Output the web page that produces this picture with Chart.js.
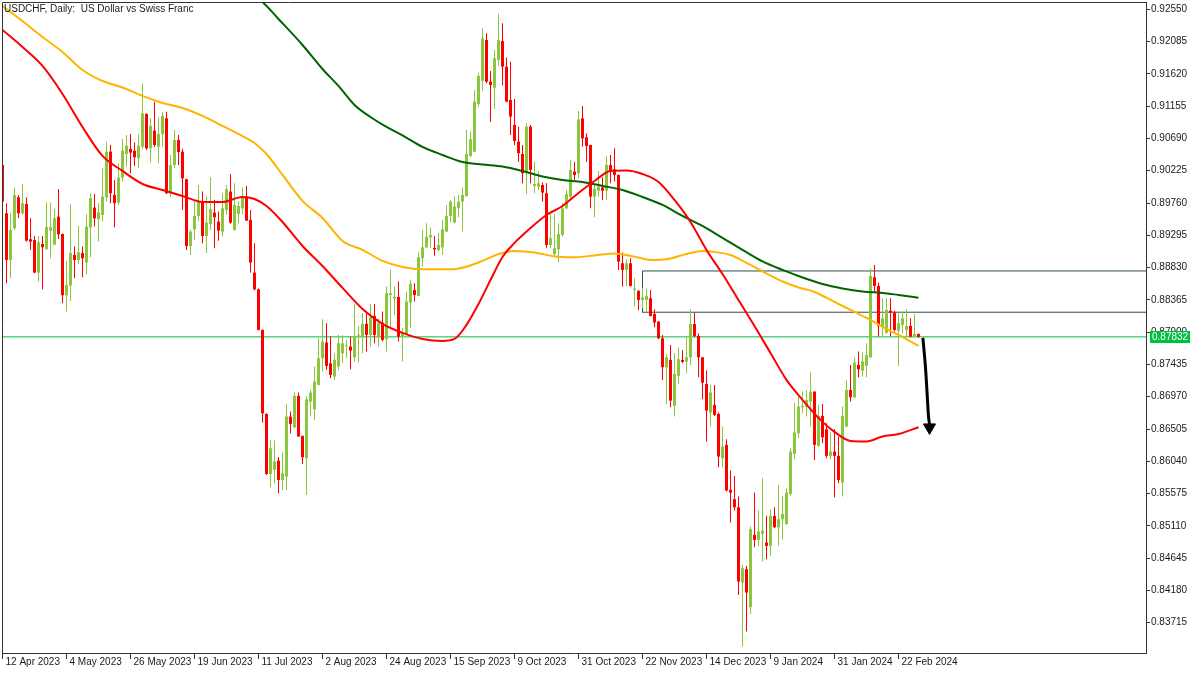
<!DOCTYPE html>
<html>
<head>
<meta charset="utf-8">
<title>USDCHF, Daily</title>
<script src="https://cdn.jsdelivr.net/npm/chart.js@4.4.1/dist/chart.umd.min.js"></script>
<style>
  html, body { margin: 0; padding: 0; background: #fff; }
  #wrap { width: 1200px; height: 675px; }
</style>
</head>
<body>
<div id="wrap"><canvas id="chart" width="1200" height="675"></canvas></div>
<script>
// daily candles, 12 Apr 2023 .. 29 Feb 2024 (index 0..229)
const opens = [
  0.90308,0.89612,0.88940,0.89396,0.89842,0.89612,0.89746,0.89238,0.89228,0.88758,
  0.89170,0.89094,0.89362,0.89160,0.89564,0.89314,0.88431,0.88570,0.89012,0.88940,
  0.89040,0.88902,0.89406,0.89694,0.89526,0.89588,0.89842,0.90500,0.89876,0.89766,
  0.90126,0.90466,0.90538,0.90514,0.90404,0.90572,0.91042,0.90548,0.90802,0.90572,
  0.90750,0.90980,0.89900,0.90308,0.90668,0.90499,0.90102,0.89140,0.89380,0.89574,
  0.89780,0.89286,0.89458,0.89622,0.89492,0.89348,0.89660,0.89924,0.89372,0.89602,
  0.89684,0.89852,0.89516,0.88758,0.88518,0.87932,0.86722,0.85858,0.85916,0.86050,
  0.85772,0.85820,0.86684,0.86530,0.86982,0.86406,0.86084,0.86900,0.86790,0.87140,
  0.87524,0.87750,0.87452,0.87260,0.87404,0.87596,0.87696,0.87692,0.87538,0.87850,
  0.87826,0.88020,0.87860,0.88134,0.87826,0.88038,0.87798,0.88436,0.88384,0.88408,
  0.87836,0.87874,0.88326,0.88508,0.88422,0.88964,0.89122,0.89266,0.89113,0.89084,
  0.89122,0.89348,0.89574,0.89478,0.89684,0.89780,0.89862,0.90438,0.90500,0.91186,
  0.91522,0.92108,0.91508,0.91422,0.91820,0.92094,0.91724,0.91244,0.90884,0.90644,
  0.90466,0.90212,0.90860,0.90006,0.89996,0.90020,0.89900,0.89156,0.89022,0.89094,
  0.89300,0.89684,0.89852,0.90212,0.90188,0.90980,0.90706,0.90596,0.89852,0.89938,
  0.89982,0.89938,0.90308,0.90246,0.90164,0.88892,0.88796,0.88892,0.88508,0.88494,
  0.88364,0.88364,0.88388,0.88162,0.88052,0.87812,0.87394,0.87500,0.86838,0.87270,
  0.87500,0.87476,0.87538,0.88018,0.87846,0.87538,0.87154,0.86742,0.86852,0.86722,
  0.86084,0.86276,0.85630,0.85494,0.85378,0.84294,0.84486,0.83940,0.84980,0.84908,
  0.84994,0.84870,0.84822,0.85254,0.85090,0.85206,0.85138,0.85570,0.86146,0.86444,
  0.86818,0.86828,0.86900,0.87044,0.86262,0.86694,0.86502,0.86118,0.86180,0.86118,
  0.85734,0.86540,0.87068,0.86962,0.87428,0.87346,0.87414,0.87538,0.88690,0.88566,
  0.87980,0.87894,0.88210,0.88182,0.87922,0.88004,0.87932,0.87990,0.87836,0.87874
];
const highs = [
  0.90332,0.89756,0.89612,0.89982,0.89876,0.90034,0.89842,0.89540,0.89286,0.89286,
  0.89286,0.89770,0.89766,0.89670,0.89962,0.89320,0.88926,0.89746,0.89132,0.89434,
  0.89132,0.89598,0.89900,0.89890,0.89756,0.90260,0.90644,0.90596,0.90092,0.90332,
  0.90682,0.90740,0.90754,0.90630,0.90754,0.91484,0.91052,0.90980,0.91220,0.90990,
  0.91066,0.91076,0.90450,0.90812,0.90740,0.90540,0.90110,0.89372,0.89804,0.90020,
  0.89924,0.89852,0.90130,0.89804,0.89636,0.89900,0.90020,0.90178,0.90044,0.89780,
  0.89986,0.90006,0.89660,0.89180,0.88530,0.87940,0.86732,0.86348,0.86338,0.86098,
  0.86166,0.86866,0.86756,0.87030,0.87030,0.86410,0.86982,0.87068,0.87404,0.87812,
  0.88086,0.88028,0.87836,0.87596,0.87860,0.87860,0.87788,0.87836,0.88307,0.87990,
  0.88172,0.88172,0.88307,0.88307,0.88100,0.88196,0.88556,0.88800,0.88556,0.88628,
  0.87956,0.88484,0.88652,0.88604,0.89046,0.89372,0.89468,0.89410,0.89286,0.89330,
  0.89516,0.89732,0.89804,0.89852,0.89876,0.89986,0.90812,0.90788,0.91388,0.91637,
  0.92276,0.92204,0.91660,0.91964,0.92482,0.92348,0.91854,0.91796,0.91258,0.90860,
  0.90596,0.90908,0.90884,0.90356,0.90212,0.90054,0.90044,0.89602,0.89602,0.89468,
  0.89756,0.89948,0.90380,0.90356,0.91086,0.91158,0.90764,0.90600,0.90020,0.90222,
  0.90130,0.90438,0.90452,0.90548,0.90170,0.89046,0.88949,0.88964,0.88676,0.88508,
  0.88532,0.88518,0.88508,0.88230,0.88060,0.87860,0.87586,0.87716,0.87596,0.87682,
  0.87644,0.87846,0.88230,0.88182,0.87884,0.87540,0.87346,0.87140,0.87140,0.86742,
  0.86540,0.86358,0.85906,0.85830,0.85532,0.84548,0.84534,0.85100,0.85590,0.85330,
  0.85796,0.85254,0.85350,0.85378,0.85700,0.85542,0.85652,0.86228,0.86876,0.86972,
  0.87044,0.87068,0.87318,0.87050,0.86852,0.86866,0.86588,0.86454,0.86502,0.86396,
  0.86828,0.87212,0.87428,0.87538,0.87620,0.87606,0.87740,0.88820,0.88868,0.88614,
  0.88388,0.88388,0.88388,0.88210,0.88182,0.88196,0.88230,0.88100,0.88162,0.87880
];
const lows = [
  0.89756,0.88604,0.88676,0.89372,0.89540,0.89588,0.89204,0.89084,0.88750,0.88628,
  0.88518,0.89090,0.88964,0.89150,0.89242,0.88316,0.88196,0.88350,0.88676,0.88882,
  0.88690,0.88734,0.88978,0.89420,0.89204,0.89492,0.89780,0.89756,0.89411,0.89732,
  0.90068,0.90284,0.90188,0.90294,0.90260,0.90534,0.90524,0.90342,0.90572,0.90332,
  0.90572,0.89890,0.89850,0.90265,0.90308,0.89660,0.89084,0.89012,0.89228,0.89492,
  0.89180,0.89040,0.89372,0.89108,0.89218,0.89276,0.89588,0.89460,0.89360,0.89468,
  0.89602,0.89500,0.88758,0.88500,0.87922,0.86598,0.85844,0.85666,0.85724,0.85580,
  0.85628,0.85628,0.86444,0.86516,0.86396,0.86002,0.85556,0.86684,0.86636,0.87130,
  0.87332,0.87356,0.87236,0.87212,0.87356,0.87452,0.87524,0.87366,0.87476,0.87462,
  0.87596,0.87620,0.87692,0.87740,0.87692,0.87764,0.87620,0.87956,0.88148,0.87764,
  0.87476,0.87860,0.87956,0.88340,0.88412,0.88844,0.89108,0.89108,0.89000,0.89060,
  0.89012,0.89340,0.89478,0.89470,0.89554,0.89348,0.89850,0.90420,0.90490,0.91150,
  0.91378,0.91484,0.90932,0.91114,0.91738,0.91451,0.91210,0.90740,0.90596,0.90356,
  0.90044,0.89890,0.90044,0.89900,0.89948,0.89780,0.89108,0.89108,0.88988,0.88902,
  0.89276,0.89670,0.89804,0.90092,0.90116,0.90572,0.90356,0.89684,0.89554,0.89852,
  0.89804,0.89804,0.90044,0.90068,0.88796,0.88556,0.88566,0.88556,0.88268,0.88220,
  0.88244,0.88196,0.88124,0.87970,0.87800,0.87212,0.86866,0.86818,0.86684,0.87154,
  0.87452,0.87308,0.87428,0.87826,0.87250,0.86933,0.86324,0.86540,0.86694,0.85954,
  0.85954,0.85604,0.85158,0.85330,0.84116,0.83372,0.83588,0.83842,0.84802,0.84812,
  0.84596,0.84630,0.84678,0.85076,0.84822,0.84918,0.85124,0.85542,0.86070,0.86372,
  0.86732,0.86684,0.86540,0.86060,0.86250,0.86300,0.86084,0.86070,0.85522,0.85724,
  0.85532,0.86530,0.86900,0.86948,0.87250,0.87260,0.87250,0.87524,0.88470,0.87836,
  0.87836,0.87874,0.87836,0.87908,0.87414,0.87884,0.87846,0.87826,0.87826,0.87820
];
const closes = [
  0.89780,0.88940,0.89372,0.89876,0.89612,0.89756,0.89218,0.89204,0.88758,0.89194,
  0.89122,0.89416,0.89416,0.89540,0.89310,0.88431,0.88580,0.89040,0.88940,0.89050,
  0.88964,0.89420,0.89830,0.89540,0.89626,0.89852,0.90500,0.89900,0.89756,0.90126,
  0.90514,0.90586,0.90486,0.90418,0.90586,0.91052,0.90548,0.90874,0.90596,0.90754,
  0.91014,0.89900,0.90308,0.90668,0.90495,0.90116,0.89140,0.89348,0.89574,0.89780,
  0.89286,0.89478,0.89670,0.89554,0.89362,0.89684,0.89958,0.89478,0.89732,0.89718,
  0.89862,0.89506,0.88902,0.88518,0.87932,0.86732,0.85858,0.86228,0.86036,0.85772,
  0.85868,0.86684,0.86578,0.86982,0.86396,0.86098,0.86934,0.87030,0.87188,0.87524,
  0.87764,0.87414,0.87284,0.87500,0.87740,0.87740,0.87700,0.87634,0.87836,0.87860,
  0.88020,0.87860,0.88114,0.87860,0.88030,0.87788,0.88460,0.88460,0.88408,0.87836,
  0.87874,0.88340,0.88595,0.88436,0.88980,0.89122,0.89276,0.89300,0.89093,0.89156,
  0.89382,0.89574,0.89780,0.89708,0.89780,0.89876,0.90466,0.90678,0.91220,0.91589,
  0.92132,0.91508,0.91460,0.91844,0.92108,0.91724,0.91220,0.91004,0.90654,0.90476,
  0.90188,0.90860,0.90236,0.90034,0.90044,0.89910,0.89156,0.89252,0.89108,0.89314,
  0.89684,0.89890,0.90236,0.90164,0.90966,0.90692,0.90582,0.89852,0.89962,0.89996,
  0.89938,0.90308,0.90212,0.90164,0.88916,0.88796,0.88892,0.88566,0.88527,0.88364,
  0.88402,0.88422,0.88134,0.88038,0.87812,0.87394,0.87538,0.86914,0.87298,0.87510,
  0.87471,0.87538,0.88018,0.87846,0.87538,0.87173,0.86770,0.87030,0.86708,0.86108,
  0.86252,0.85620,0.85589,0.85378,0.84308,0.84500,0.84150,0.85062,0.84908,0.85028,
  0.85042,0.84822,0.85254,0.85090,0.85206,0.85282,0.85590,0.86180,0.86454,0.86828,
  0.86838,0.86924,0.87044,0.86276,0.86694,0.86386,0.86118,0.86180,0.86118,0.85772,
  0.86694,0.87068,0.86962,0.87462,0.87366,0.87476,0.87572,0.88710,0.88566,0.87990,
  0.88100,0.88220,0.88182,0.87932,0.88028,0.88100,0.87990,0.87836,0.87874,0.87832
];

// moving averages at these bar indexes
const maFastIdx = [0,5,10,15,20,25,30,35,40,45,50,55,60,63,66,70,75,80,85,90,95,100,105,110,113,116,119,122,125,128,132,136,140,144,148,152,156,160,164,168,172,176,180,184,188,192,196,200,204,208,212,216,220,224,229];
const maFastVal = [0.92252,0.92007,0.91734,0.91331,0.90855,0.90438,0.90222,0.90034,0.89948,0.89862,0.89775,0.89775,0.89847,0.89818,0.89717,0.89487,0.89141,0.88853,0.88537,0.88234,0.88018,0.87889,0.87802,0.87774,0.87802,0.88004,0.88306,0.88652,0.88983,0.89185,0.89401,0.89588,0.89717,0.89905,0.90077,0.90222,0.90229,0.90178,0.90063,0.89804,0.89487,0.89084,0.88738,0.88363,0.87989,0.87600,0.87212,0.86924,0.86665,0.86463,0.86333,0.86326,0.86398,0.86434,0.86531];
const maMidIdx = [0,4,10,15,20,25,30,35,40,45,50,55,60,63,66,70,75,80,85,90,95,100,105,112,116,120,124,128,133,138,143,148,153,158,162,166,171,175,177,182,186,190,195,199,203,208,213,217,220,224,229];
const maMidVal = [0.92598,0.92425,0.92151,0.91935,0.91676,0.91517,0.91424,0.91302,0.91201,0.91129,0.91014,0.90870,0.90725,0.90625,0.90466,0.90164,0.89790,0.89545,0.89214,0.89084,0.88926,0.88839,0.88806,0.88806,0.88843,0.88926,0.89026,0.89070,0.89048,0.88990,0.88979,0.89005,0.89034,0.88988,0.88940,0.88950,0.89026,0.89070,0.89062,0.89012,0.88897,0.88774,0.88630,0.88544,0.88479,0.88335,0.88191,0.88076,0.87975,0.87860,0.87702];
const maSlowIdx = [60,65,69,75,80,84,88,92,96,100,105,110,115,120,125,130,135,140,145,150,155,160,165,170,175,180,185,190,195,200,205,210,215,220,224,229];
const maSlowVal = [0.92857,0.92655,0.92410,0.92036,0.91690,0.91446,0.91172,0.90999,0.90855,0.90733,0.90567,0.90452,0.90351,0.90315,0.90286,0.90222,0.90142,0.90092,0.90063,0.90006,0.89948,0.89847,0.89732,0.89574,0.89430,0.89257,0.89084,0.88918,0.88796,0.88688,0.88594,0.88530,0.88486,0.88465,0.88436,0.88397];

// axis ticks
const dateTickIdx = [0,16,32,48,64,80,96,112,128,144,160,176,192,208,224];
const dateTickLabels = ['12 Apr 2023','4 May 2023','26 May 2023','19 Jun 2023','11 Jul 2023','2 Aug 2023','24 Aug 2023','15 Sep 2023','9 Oct 2023','31 Oct 2023','22 Nov 2023','14 Dec 2023','9 Jan 2024','31 Jan 2024','22 Feb 2024'];
const priceTicks = [0.92550,0.92085,0.91620,0.91155,0.90690,0.90225,0.89760,0.89295,0.88830,0.88365,0.87900,0.87435,0.86970,0.86505,0.86040,0.85575,0.85110,0.84645,0.84180,0.83715];

// drawn objects
const zoneStartIdx = 160;
const zoneTop = 0.88781;
const zoneBottom = 0.88187;
const arrowIdx = [230.1, 230.7, 231.1, 231.5, 231.75];
const arrowVal = [0.87817, 0.87428, 0.87068, 0.86683, 0.86578];
const arrowHead = {x: 231.75, y: 0.86528};

const lastPrice = closes[closes.length - 1];
const X_MIN = -0.125, X_MAX = 285.875;
const Y_MIN = 0.83279, Y_MAX = 0.92655;

const BULL = '#8cc63f';
const BEAR = '#ff0000';
const HLINE = '#00c040';
const FONT = '"Liberation Sans", Arial, sans-serif';

const candleColors = opens.map((o, i) => closes[i] >= o ? BULL : BEAR);
const wicks = opens.map((o, i) => ({x: i, y: [lows[i], highs[i]]}));
const bodies = opens.map((o, i) => ({x: i, y: [Math.min(o, closes[i]), Math.max(o, closes[i])]}));
const pairs = (xs, ys) => xs.map((x, i) => ({x: x, y: ys[i]}));

// keep the plot area exactly where the terminal puts it
const noPad = s => { s.paddingLeft = 0; s.paddingRight = 0; s.paddingTop = 0; s.paddingBottom = 0; };

const decor = {
  id: 'decor',
  afterDraw(chart) {
    const {ctx, chartArea: a, scales} = chart;
    ctx.save();
    ctx.strokeStyle = '#333';
    ctx.lineWidth = 1;
    ctx.beginPath();
    ctx.moveTo(a.left + 0.5, a.bottom);
    ctx.lineTo(a.left + 0.5, a.top + 0.5);
    ctx.lineTo(a.right, a.top + 0.5);
    ctx.stroke();

    ctx.font = '10px ' + FONT;
    ctx.textBaseline = 'middle';
    ctx.fillStyle = '#1a1a1a';
    ctx.fillText('USDCHF, Daily:  US Dollar vs Swiss Franc', 4, 9.5);

    const py = Math.round(scales.y.getPixelForValue(lastPrice));
    ctx.fillStyle = HLINE;
    ctx.fillRect(a.right + 4, py - 6, 40, 12);
    ctx.fillStyle = '#ffffff';
    ctx.fillText(lastPrice.toFixed(5), a.right + 6, py + 0.5);
    ctx.restore();
  }
};

new Chart(document.getElementById('chart'), {
  type: 'bar',
  data: {
    datasets: [
      { type: 'line', order: 0, data: pairs(arrowIdx, arrowVal), borderColor: '#000', borderWidth: 3,
        pointRadius: 0, tension: 0.3, clip: false },
      { type: 'line', order: 0, data: [arrowHead], showLine: false, pointStyle: 'triangle', rotation: 180,
        pointRadius: 7, backgroundColor: '#000', borderColor: '#000', borderWidth: 1, clip: false },
      { type: 'line', order: 0, data: pairs(maFastIdx, maFastVal), borderColor: '#ff0000', borderWidth: 2,
        pointRadius: 0, cubicInterpolationMode: 'monotone' },
      { type: 'line', order: 0, data: pairs(maMidIdx, maMidVal), borderColor: '#ffb400', borderWidth: 2,
        pointRadius: 0, cubicInterpolationMode: 'monotone' },
      { type: 'line', order: 0, data: pairs(maSlowIdx, maSlowVal), borderColor: '#006400', borderWidth: 2,
        pointRadius: 0, cubicInterpolationMode: 'monotone' },
      { order: 1, data: bodies, backgroundColor: candleColors, barThickness: 3, minBarLength: 1,
        grouped: false, borderWidth: 0, inflateAmount: 0 },
      { order: 1, data: wicks, backgroundColor: candleColors, barThickness: 1,
        grouped: false, borderWidth: 0, inflateAmount: 0 },
      { type: 'line', order: 2, borderColor: '#2f4f4f', borderWidth: 1, pointRadius: 0,
        data: [{x: X_MAX, y: zoneTop}, {x: zoneStartIdx, y: zoneTop}, {x: zoneStartIdx, y: zoneBottom}, {x: X_MAX, y: zoneBottom}] },
      { type: 'line', order: 3, borderColor: HLINE, borderWidth: 1, pointRadius: 0,
        data: [{x: X_MIN, y: lastPrice}, {x: X_MAX, y: lastPrice}] }
    ]
  },
  options: {
    responsive: false,
    animation: false,
    devicePixelRatio: 1,
    layout: { autoPadding: false, padding: { left: 2, top: 2, right: 0, bottom: 0 } },
    plugins: { legend: { display: false }, tooltip: { enabled: false }, title: { display: false } },
    scales: {
      x: {
        type: 'linear', min: X_MIN, max: X_MAX, offset: false, bounds: 'data',
        afterBuildTicks: s => { s.ticks = dateTickIdx.map(v => ({value: v})); },
        afterFit: s => { s.height = 22; noPad(s); },
        grid: { drawOnChartArea: false, drawTicks: true, tickLength: 6, color: '#333', offset: false },
        border: { display: true, color: '#333' },
        ticks: {
          autoSkip: false, maxRotation: 0, minRotation: 0, align: 'start', labelOffset: 3, padding: -3,
          color: '#1a1a1a', font: { family: FONT, size: 10 },
          callback: (v, i) => dateTickLabels[i]
        }
      },
      y: {
        type: 'linear', position: 'right', min: Y_MIN, max: Y_MAX, bounds: 'data',
        afterBuildTicks: s => { s.ticks = priceTicks.map(v => ({value: v})); },
        afterFit: s => { s.width = 54; noPad(s); },
        grid: { drawOnChartArea: false, drawTicks: true, tickLength: 4, color: '#333' },
        border: { display: true, color: '#333' },
        ticks: {
          autoSkip: false, padding: 1, color: '#1a1a1a', font: { family: FONT, size: 10 },
          callback: v => v.toFixed(5)
        }
      }
    }
  },
  plugins: [decor]
});
</script>
</body>
</html>
